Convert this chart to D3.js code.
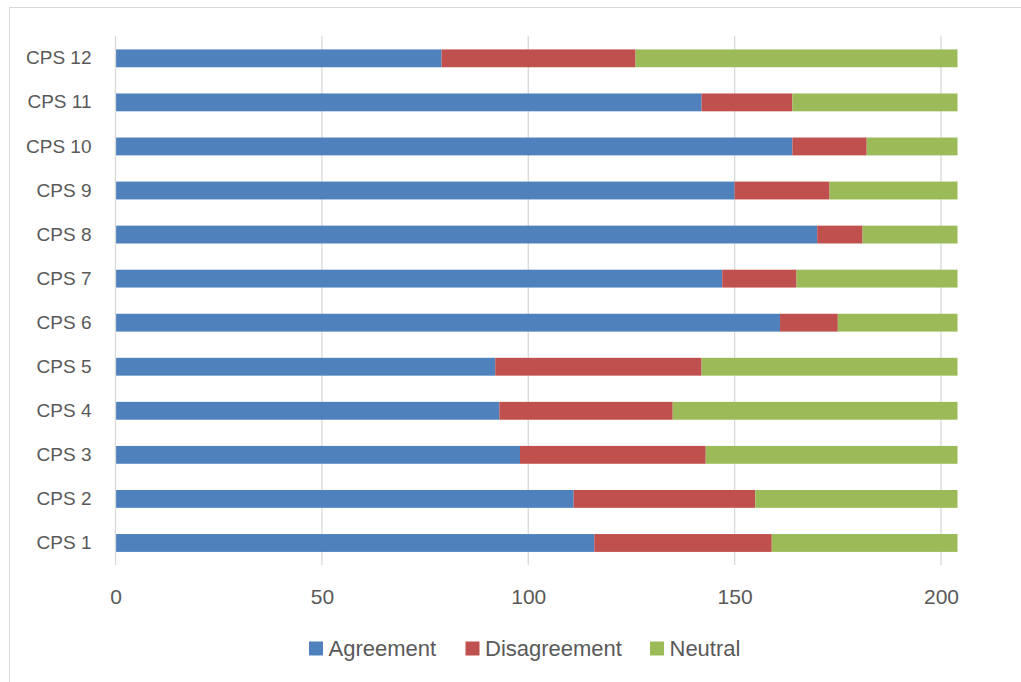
<!DOCTYPE html>
<html>
<head>
<meta charset="utf-8">
<script src="https://cdn.jsdelivr.net/npm/d3@7"></script>
<style>
  html, body { margin: 0; padding: 0; background: #fff; }
  svg { display: block; }
  text { font-family: "Liberation Sans", Arial, sans-serif; fill: #595959; }
</style>
</head>
<body>
<svg id="chart" width="1021" height="682"></svg>
<script>
const categories = ["CPS 1","CPS 2","CPS 3","CPS 4","CPS 5","CPS 6","CPS 7","CPS 8","CPS 9","CPS 10","CPS 11","CPS 12"];
const agreement    = [116, 111, 98, 93, 92, 161, 147, 170, 150, 164, 142, 79];
const disagreement = [ 43,  44, 45, 42, 50,  14,  18,  11,  23,  18,  22, 47];
const neutral      = [ 45,  49, 61, 69, 62,  29,  39,  23,  31,  22,  40, 78];
const seriesNames  = ["Agreement", "Disagreement", "Neutral"];
const seriesColors = ["#4f81bd", "#c0504d", "#9bbb59"];
const xTicks = [0, 50, 100, 150, 200];

const rows = categories.map((c, i) => ({
  cat: c, Agreement: agreement[i], Disagreement: disagreement[i], Neutral: neutral[i]
}));

const svg = d3.select("#chart");

// outer chart frame
svg.append("rect")
  .attr("x", 9.5).attr("y", 7.5)
  .attr("width", 1040).attr("height", 700)
  .attr("fill", "none").attr("stroke", "#d9d9d9").attr("stroke-width", 1);

const plot = { left: 115.5, right: 941, top: 36.3, bottom: 565 };

const x = d3.scaleLinear().domain([0, 200]).range([plot.left, plot.right]);
const y = d3.scaleBand()
  .domain(categories.slice().reverse())
  .range([plot.top, plot.bottom])
  .paddingInner(0.595).paddingOuter(0.2975);

// gridlines
svg.append("g").selectAll("line")
  .data(xTicks.filter(t => t > 0))
  .join("line")
  .attr("x1", d => x(d)).attr("x2", d => x(d))
  .attr("y1", plot.top).attr("y2", plot.bottom)
  .attr("stroke", "#d9d9d9").attr("stroke-width", 1.3);

// stacked bars
const stack = d3.stack().keys(seriesNames);
const stacked = stack(rows);
const color = d3.scaleOrdinal().domain(seriesNames).range(seriesColors);

svg.append("g").selectAll("g")
  .data(stacked)
  .join("g")
  .attr("fill", d => color(d.key))
  .selectAll("rect")
  .data(d => d)
  .join("rect")
  .attr("x", d => x(d[0]))
  .attr("width", d => x(d[1]) - x(d[0]))
  .attr("y", d => y(d.data.cat))
  .attr("height", y.bandwidth());

// vertical axis line
svg.append("line")
  .attr("x1", plot.left).attr("x2", plot.left)
  .attr("y1", plot.top).attr("y2", plot.bottom)
  .attr("stroke", "#d9d9d9").attr("stroke-width", 1.3);

// category labels
const yAxis = d3.axisLeft(y).tickSize(0).tickPadding(24);
const gy = svg.append("g").attr("transform", `translate(${plot.left},0)`).call(yAxis);
gy.select(".domain").remove();
gy.selectAll("text")
  .attr("font-size", 19)
  .style("font-family", "'Liberation Sans', Arial, sans-serif")
  .attr("fill", "#595959");

// x tick labels
const xAxis = d3.axisBottom(x).tickValues(xTicks).tickSize(0).tickPadding(0).tickFormat(d3.format("d"));
const gx = svg.append("g").attr("transform", `translate(0,${plot.bottom})`).call(xAxis);
gx.select(".domain").remove();
gx.selectAll("text")
  .attr("y", 32)
  .attr("dy", "0.35em")
  .attr("font-size", 21)
  .style("font-family", "'Liberation Sans', Arial, sans-serif")
  .attr("fill", "#595959");

// legend
const legendX = [309, 465.5, 650];
const legend = svg.append("g").selectAll("g")
  .data(seriesNames)
  .join("g")
  .attr("transform", (d, i) => `translate(${legendX[i]},648.5)`);
legend.append("rect")
  .attr("x", 0).attr("y", -7)
  .attr("width", 14).attr("height", 14)
  .attr("fill", d => color(d));
legend.append("text")
  .attr("x", 19.5).attr("y", 0).attr("dy", "0.35em")
  .attr("font-size", 22)
  .text(d => d);
</script>
</body>
</html>
